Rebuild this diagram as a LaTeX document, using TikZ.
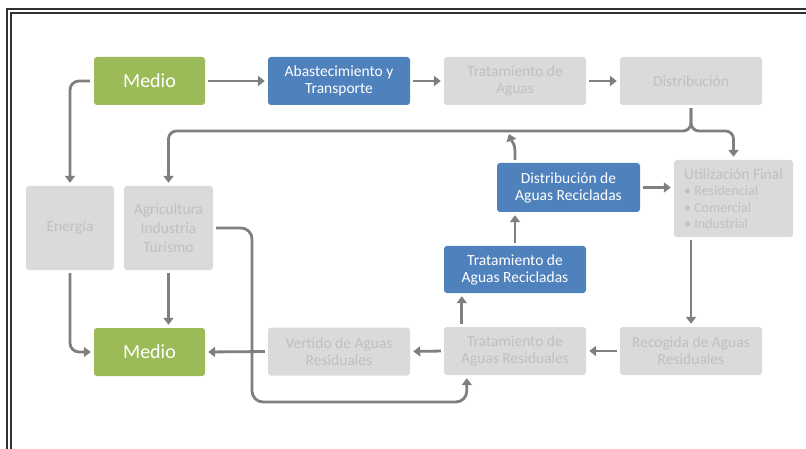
\documentclass[tikz,border=0pt]{standalone}
\usepackage{fontspec}
\setmainfont{Carlito}
\usetikzlibrary{arrows.meta,calc}
\definecolor{mgreen}{HTML}{9BBB59}
\definecolor{mblue}{HTML}{4F81BD}
\definecolor{mgray}{HTML}{DADADA}
\definecolor{mtext}{HTML}{C0C0C0}
\definecolor{marrow}{HTML}{7F7F7F}
\definecolor{mframe}{HTML}{303030}
\begin{document}
\begin{tikzpicture}[x=1pt,y=-1pt,
  box/.style={rounded corners=3pt, minimum width=142pt, minimum height=48pt, align=center, inner sep=0pt, font=\fontsize{15.5}{17}\selectfont},
  greenbox/.style={box, fill=mgreen, text=white, minimum width=111pt, font=\fontsize{20}{24}\selectfont},
  bluebox/.style={box, fill=mblue, text=white},
  graybox/.style={box, fill=mgray, text=mtext},
  arr/.style={draw=marrow, line width=2.8pt, -{Triangle[width=10pt,length=7pt]}, shorten <=3pt, shorten >=3pt},
  frameline/.style={draw=mframe, line width=1.8pt}
]
\useasboundingbox (0,0) rectangle (806,449);
% frame
\draw[frameline] (7,449) -- (7,9) -- (806,9);
\draw[frameline] (11,449) -- (11,13) -- (806,13);

% nodes
\node[greenbox] (medio1) at (149.5,81) {Medio};
\node[bluebox] (abast) at (339,81) {Abastecimiento y\\Transporte};
\node[graybox] (trat) at (515,81) {Tratamiento de\\Aguas};
\node[graybox] (dist) at (691,81) {Distribución};
\node[bluebox, minimum width=143pt, minimum height=49pt] (distrec) at (568.5,187.5) {Distribución de\\Aguas Recicladas};
\node[graybox, minimum width=119pt, minimum height=77pt, align=left, font=\fontsize{15.5}{16.5}\selectfont] (util) at (733.5,198.5) {Utilización Final\\{\fontsize{14}{16.5}\selectfont • Residencial}\\{\fontsize{14}{16.5}\selectfont • Comercial}\\{\fontsize{14}{16.5}\selectfont • Industrial}};
\node[graybox, minimum width=88pt, minimum height=84pt] (energia) at (70,228) {Energía};
\node[graybox, minimum width=89pt, minimum height=84pt, font=\fontsize{15.5}{19}\selectfont] (agri) at (168.5,228) {Agricultura\\Industria\\Turismo};
\node[greenbox] (medio2) at (149.5,352) {Medio};
\node[graybox] (vert) at (339,351.5) {Vertido de Aguas\\Residuales};
\node[graybox] (trres) at (515,351) {Tratamiento de\\Aguas Residuales};
\node[graybox] (rec) at (691,351) {Recogida de Aguas\\Residuales};
\node[bluebox, minimum height=47pt] (trrec) at (515,269.5) {Tratamiento de\\Aguas Recicladas};

% helper coordinates
\coordinate (jn) at (509,134);
\coordinate (trresA) at ($(trres.north west)+(18,0)$);
\coordinate (trresB) at ($(trres.south west)+(23,0)$);

% top row
\draw[arr] (medio1) -- (abast);
\draw[arr] (abast) -- (trat);
\draw[arr] (trat) -- (dist);
\draw[arr, rounded corners=9pt, shorten <=4pt] (medio1.west) -- (medio1.west -| energia.north) -- (energia.north);

% brace from Distribucion
\draw[arr, rounded corners=8pt] (dist.south) -- (dist.south |- 0,131) -- (agri.north |- 0,131) -- (agri.north);
\draw[arr, rounded corners=8pt] (dist.south) -- (dist.south |- 0,131) -- (util.north |- 0,131) -- (util.north);

% recycled loop
\draw[arr, shorten >=0pt] (distrec.north -| trrec.north) -- ++(0,-12) to[out=90,in=-70] (jn);
\draw[arr] (distrec.east) -- (distrec.east -| util.west);
\draw[arr] (trrec.north) -- (trrec.north |- distrec.south);
\draw[arr] (trresA) -- (trresA |- trrec.south);

% right column down and bottom row
\draw[arr] (util.south -| rec.north) -- (rec.north);
\draw[arr] (rec.west) -- (trres.east);
\draw[arr] (trres.west) -- (vert.east);
\draw[arr] (vert.west) -- (medio2.east);

% left column
\draw[arr, rounded corners=9pt] (energia.south) -- (energia.south |- medio2.west) -- (medio2.west);
\draw[arr] (agri.south) -- (agri.south |- medio2.north);
\draw[arr, rounded corners=11pt] (agri.east) -- (252,228) -- (252,402) -- (trresB |- 0,402) -- (trresB);
\end{tikzpicture}
\end{document}
